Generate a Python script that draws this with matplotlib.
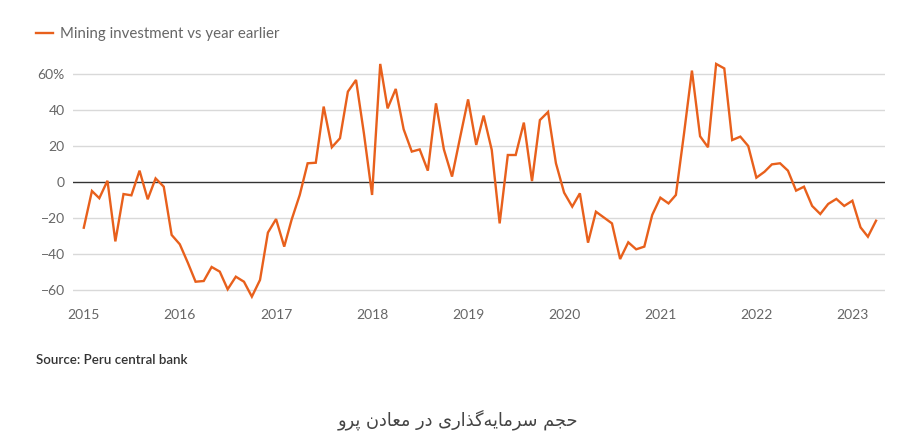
import matplotlib
matplotlib.use("Agg")
import matplotlib.pyplot as plt
import matplotlib.dates as mdates
from matplotlib.lines import Line2D
import pandas as pd

# Peru mining investment, % change vs year earlier (monthly, Jan 2015 - Apr 2023)
y2015 = [-25.4, -5, -9, 0.7, -33, -6.7, -7.4, 6.3, -9.6, 2, -2.6, -29.4]
y2016 = [-34.6, -45, -55.4, -55, -47.2, -49.8, -59.6, -52.6, -55.4, -63.7, -54.4, -28.1]
y2017 = [-20.6, -35.9, -21, -7.2, 10.4, 10.7, 41.9, 19.3, 24.3, 50.2, 56.7, 27]
y2018 = [-7.2, 65.6, 40.9, 51.7, 29.3, 16.9, 18.1, 6.3, 43.7, 18.1, 3, 24.3]
y2019 = [45.9, 20.6, 36.9, 17.8, -23, 15, 15, 33, 0.5, 34.4, 38.9, 10.4]
y2020 = [-5.9, -13.7, -6.3, -33.7, -16.5, -19.8, -23, -42.8, -33.5, -37.4, -35.9, -18.3]
y2021 = [-8.7, -11.9, -7.2, 27, 61.9, 25.4, 19.3, 65.6, 63.1, 23.3, 25.2, 20]
y2022 = [2.4, 5.7, 9.8, 10.4, 6.3, -4.8, -2.6, -13.3, -17.8, -12.2, -9.4, -13.3]
y2023 = [-10.4, -25.2, -30.4, -21.5]

values = y2015 + y2016 + y2017 + y2018 + y2019 + y2020 + y2021 + y2022 + y2023
months = pd.date_range("2015-01-01", periods=len(values), freq="MS")

years = list(range(2015, 2024))
yticks = [-60, -40, -20, 0, 20, 40, 60]
ylabels = ["\u221260", "\u221240", "\u221220", "0", "20", "40", "60%"]

legend_label = "Mining investment vs year earlier"
source = "Source: Peru central bank"
caption = "حجم سرمایه\u200cگذاری در معادن پرو"

ORANGE = "#e8601c"
GRAY = "#666666"

# matplotlib has no arabic shaping, so pick presentation forms by hand
FORMS = {  # iso, final, initial, medial
    "ح": "\uFEA1\uFEA2\uFEA3\uFEA4",
    "ج": "\uFE9D\uFE9E\uFE9F\uFEA0",
    "م": "\uFEE1\uFEE2\uFEE3\uFEE4",
    "س": "\uFEB1\uFEB2\uFEB3\uFEB4",
    "ی": "\uFBFC\uFBFD\uFBFE\uFBFF",
    "ه": "\uFEE9\uFEEA\uFEEB\uFEEC",
    "گ": "\uFB92\uFB93\uFB94\uFB95",
    "ع": "\uFEC9\uFECA\uFECB\uFECC",
    "ن": "\uFEE5\uFEE6\uFEE7\uFEE8",
    "پ": "\uFB56\uFB57\uFB58\uFB59",
    "ا": "\uFE8D\uFE8E",
    "د": "\uFEA9\uFEAA",
    "ذ": "\uFEAB\uFEAC",
    "ر": "\uFEAD\uFEAE",
    "و": "\uFEED\uFEEE",
}


def shape(text):
    out = []
    chars = list(text)
    for i, c in enumerate(chars):
        if c not in FORMS:
            if c != "\u200c":
                out.append(c)
            continue
        prev = chars[i - 1] if i > 0 else ""
        nxt = chars[i + 1] if i + 1 < len(chars) else ""
        join_prev = prev in FORMS and len(FORMS[prev]) == 4
        join_next = nxt in FORMS and len(FORMS[c]) == 4
        f = FORMS[c]
        if join_prev and join_next:
            out.append(f[3])
        elif join_prev:
            out.append(f[1])
        elif join_next:
            out.append(f[2])
        else:
            out.append(f[0])
    return "".join(out)[::-1]


plt.rcParams["font.family"] = ["Lato", "DejaVu Sans"]

fig = plt.figure(figsize=(9.19, 4.48), dpi=100)
ax = fig.add_axes([73 / 919, 140 / 448, 812 / 919, 252 / 448])

for v in yticks:
    if v != 0:
        ax.axhline(v, color="#d9d9d9", lw=1.0, zorder=1)
ax.axhline(0, color="#333333", lw=1.0, zorder=2)

ax.plot(months, values, color=ORANGE, lw=1.7, zorder=3, solid_joinstyle="miter")

ax.set_ylim(-70, 70)
ax.set_xlim(pd.Timestamp("2014-11-21"), pd.Timestamp("2023-05-05"))
ax.set_yticks(yticks)
ax.set_yticklabels(ylabels)
ax.set_xticks([pd.Timestamp(f"{y}-01-01") for y in years])
ax.set_xticklabels([str(y) for y in years])
ax.xaxis.set_major_formatter(mdates.DateFormatter("%Y"))

for s in ax.spines.values():
    s.set_visible(False)
ax.tick_params(axis="both", length=0, labelsize=10, labelcolor=GRAY)
ax.tick_params(axis="y", pad=6)
ax.tick_params(axis="x", pad=1)

fig.add_artist(Line2D([36 / 919, 53 / 919], [1 - 33 / 448, 1 - 33 / 448],
                      color=ORANGE, lw=1.7, transform=fig.transFigure))
fig.text(60 / 919, 1 - 34 / 448, legend_label, fontsize=10.8, color=GRAY,
         va="center", ha="left")

fig.text(36 / 919, 1 - 360 / 448, source, fontsize=9.6, color="#333333",
         va="center", ha="left", fontweight="semibold")

fig.text(458 / 919, 1 - 420 / 448, shape(caption), fontsize=12.8, color="#444444",
         va="center", ha="center", family=["DejaVu Sans"])

fig.savefig("out.png", dpi=100)
